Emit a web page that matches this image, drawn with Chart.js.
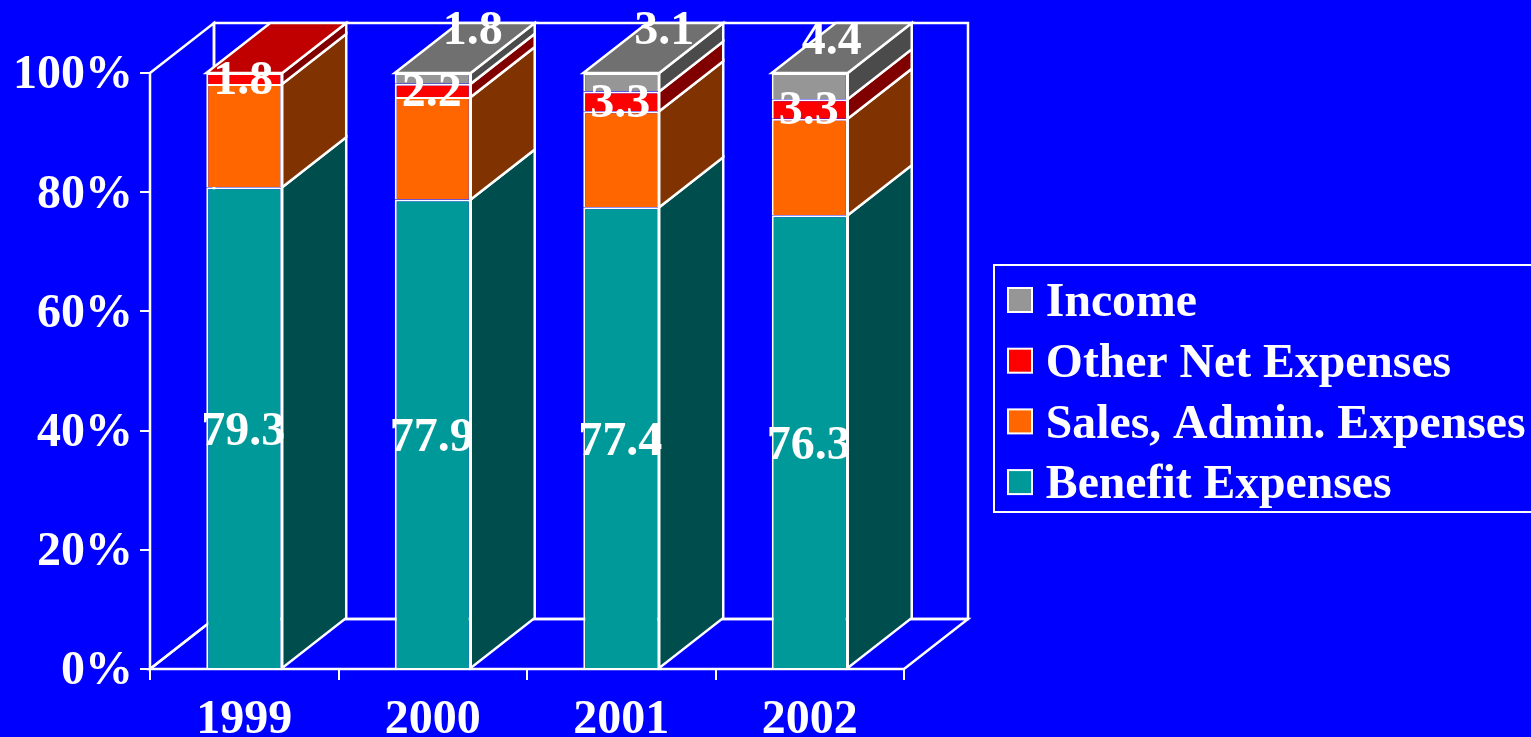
<!DOCTYPE html>
<html>
<head>
<meta charset="utf-8">
<title>Expense shares 1999-2002</title>
<script src="https://cdn.jsdelivr.net/npm/chart.js@4"></script>
<style>
  html, body { margin: 0; padding: 0; background: #0000ff; overflow: hidden; }
  canvas { display: block; }
</style>
</head>
<body>
<canvas id="grafico" width="1531" height="737"></canvas>
<script>
const years = ["1999", "2000", "2001", "2002"];
const seriesNames = ["Benefit Expenses", "Sales, Admin. Expenses", "Other Net Expenses", "Income"];
const benefit = [79.3, 77.9, 77.4, 76.3];
const sales = [17.0, 17.0, 16.1, 16.2]; // no label on these
const otherNet = [1.8, 2.2, 3.3, 3.3];
const income = [0, 1.8, 3.1, 4.4]; // 1999 has no income segment
const percentTicks = [0, 20, 40, 60, 80, 100];

const seriesValues = [benefit, sales, otherNet, income];
const frontColors = ["#009999", "#ff6600", "#ff0000", "#969696"];
const sideColors = ["#004d4d", "#803300", "#800000", "#4b4b4b"];
const topColors = ["#007373", "#c04c00", "#c00000", "#707070"];

const WHITE = "#ffffff";
const FONT = { family: "'Liberation Serif'", weight: "bold", size: 48 };
const DEPTH_X = 64; // 3d offset of the back wall
const DEPTH_Y = 50;

// income labels were dragged away from their bars
const incomeLabelShift = [[0, 0], [40, -47], [43, -51], [22, -44]];

// each column is scaled to 100%
const totals = years.map((_, i) => seriesValues.reduce((soma, s) => soma + s[i], 0));

function poly(ctx, pts, fill) {
  ctx.beginPath();
  pts.forEach((p, i) => (i ? ctx.lineTo(p[0], p[1]) : ctx.moveTo(p[0], p[1])));
  ctx.closePath();
  if (fill) {
    ctx.fillStyle = fill;
    ctx.fill();
  }
  ctx.stroke();
}

// back wall, floor and the depth faces of the columns
const depthPlugin = {
  id: "depth",
  beforeDatasetsDraw(chart) {
    const { ctx, chartArea: a } = chart;
    ctx.save();
    ctx.strokeStyle = WHITE;
    ctx.lineWidth = 2.5;
    ctx.lineJoin = "miter";

    poly(ctx, [[a.left, a.top], [a.left + DEPTH_X, a.top - DEPTH_Y], [a.left + DEPTH_X, a.bottom - DEPTH_Y], [a.left, a.bottom]]);
    poly(ctx, [[a.left + DEPTH_X, a.top - DEPTH_Y], [a.right + DEPTH_X, a.top - DEPTH_Y], [a.right + DEPTH_X, a.bottom - DEPTH_Y], [a.left + DEPTH_X, a.bottom - DEPTH_Y]]);
    poly(ctx, [[a.left, a.bottom], [a.left + DEPTH_X, a.bottom - DEPTH_Y], [a.right + DEPTH_X, a.bottom - DEPTH_Y], [a.right, a.bottom]]);

    years.forEach((_, col) => {
      let topo = null;
      seriesValues.forEach((serie, s) => {
        if (!serie[col]) return;
        const bar = chart.getDatasetMeta(s).data[col];
        const dir = bar.x + bar.width / 2;
        poly(ctx, [[dir, bar.base], [dir, bar.y], [dir + DEPTH_X, bar.y - DEPTH_Y], [dir + DEPTH_X, bar.base - DEPTH_Y]], sideColors[s]);
        topo = { bar, s };
      });
      const esq = topo.bar.x - topo.bar.width / 2;
      const dir = topo.bar.x + topo.bar.width / 2;
      const y = topo.bar.y;
      poly(ctx, [[esq, y], [dir, y], [dir + DEPTH_X, y - DEPTH_Y], [esq + DEPTH_X, y - DEPTH_Y]], topColors[topo.s]);
    });
    ctx.restore();
  }
};

// value labels, plus the legend frame and swatches
const labelsPlugin = {
  id: "valueLabels",
  afterLayout(chart) {
    const legend = chart.legend;
    legend.left = 994;
    legend.top = 267;
    legend.right = legend.left + legend.width;
    legend.bottom = legend.top + legend.height;
  },
  afterDraw(chart) {
    const { ctx, legend } = chart;
    ctx.save();
    ctx.fillStyle = WHITE;
    ctx.font = `${FONT.weight} ${FONT.size}px ${FONT.family}`;
    ctx.textAlign = "center";
    ctx.textBaseline = "middle";
    [benefit, otherNet, income].forEach((serie) => {
      const s = seriesValues.indexOf(serie);
      serie.forEach((valor, col) => {
        if (!valor) return;
        const bar = chart.getDatasetMeta(s).data[col];
        let shift = [-1, 3];
        if (serie === benefit) shift = [-1, 5];
        if (serie === income) shift = incomeLabelShift[col];
        ctx.fillText(valor.toFixed(1), bar.x + shift[0], (bar.y + bar.base) / 2 + shift[1]);
      });
    });

    ctx.strokeStyle = WHITE;
    ctx.lineWidth = 2;
    ctx.strokeRect(994, 265, 600, 247);
    legend.legendItems.forEach((item, i) => {
      const hit = legend.legendHitBoxes[i];
      ctx.fillStyle = frontColors[item.datasetIndex];
      ctx.fillRect(hit.left + 1, hit.top + 8, 24, 24);
      ctx.strokeRect(hit.left + 1, hit.top + 8, 24, 24);
    });
    ctx.restore();
  }
};

new Chart(document.getElementById("grafico"), {
  type: "bar",
  data: {
    labels: years,
    datasets: seriesNames.map((nome, s) => ({
      label: nome,
      data: seriesValues[s].map((v, i) => (v / totals[i]) * 100),
      backgroundColor: frontColors[s],
      borderColor: WHITE,
      borderWidth: { top: 2, left: 2, right: 2, bottom: 0 },
      borderSkipped: false,
      categoryPercentage: 1,
      barPercentage: 0.403
    }))
  },
  options: {
    responsive: false,
    animation: false,
    layout: { padding: { top: 73, right: 87, bottom: 0, left: 0 } },
    scales: {
      x: {
        stacked: true,
        grid: { drawOnChartArea: false, color: WHITE, lineWidth: 2, tickLength: 11 },
        border: { color: WHITE, width: 2 },
        ticks: { color: WHITE, font: FONT, padding: 12, maxRotation: 0, autoSkip: false },
        afterFit(scale) { scale.height = 68; }
      },
      y: {
        stacked: true,
        min: 0,
        max: 100,
        afterBuildTicks(scale) { scale.ticks = percentTicks.map(v => ({ value: v })); },
        grid: { drawOnChartArea: false, color: WHITE, lineWidth: 2, tickLength: 10 },
        border: { color: WHITE, width: 2 },
        ticks: { color: WHITE, font: FONT, padding: 7, labelOffset: 3, callback: v => v + "%" },
        afterFit(scale) { scale.width = 150; }
      }
    },
    plugins: {
      tooltip: { enabled: false },
      legend: {
        position: "right",
        align: "start",
        maxWidth: 540,
        labels: {
          color: WHITE,
          font: { ...FONT, size: 47.7 },
          padding: 13,
          boxWidth: 15, // the real swatch is painted by valueLabels
          boxHeight: 2,
          generateLabels: (chart) => chart.data.datasets.map((d, i) => ({
            text: d.label,
            datasetIndex: i,
            fillStyle: "rgba(0,0,0,0)",
            strokeStyle: "rgba(0,0,0,0)",
            lineWidth: 0,
            fontColor: WHITE
          })),
          sort: (a, b) => b.datasetIndex - a.datasetIndex
        }
      }
    }
  },
  plugins: [depthPlugin, labelsPlugin]
});
</script>
</body>
</html>
